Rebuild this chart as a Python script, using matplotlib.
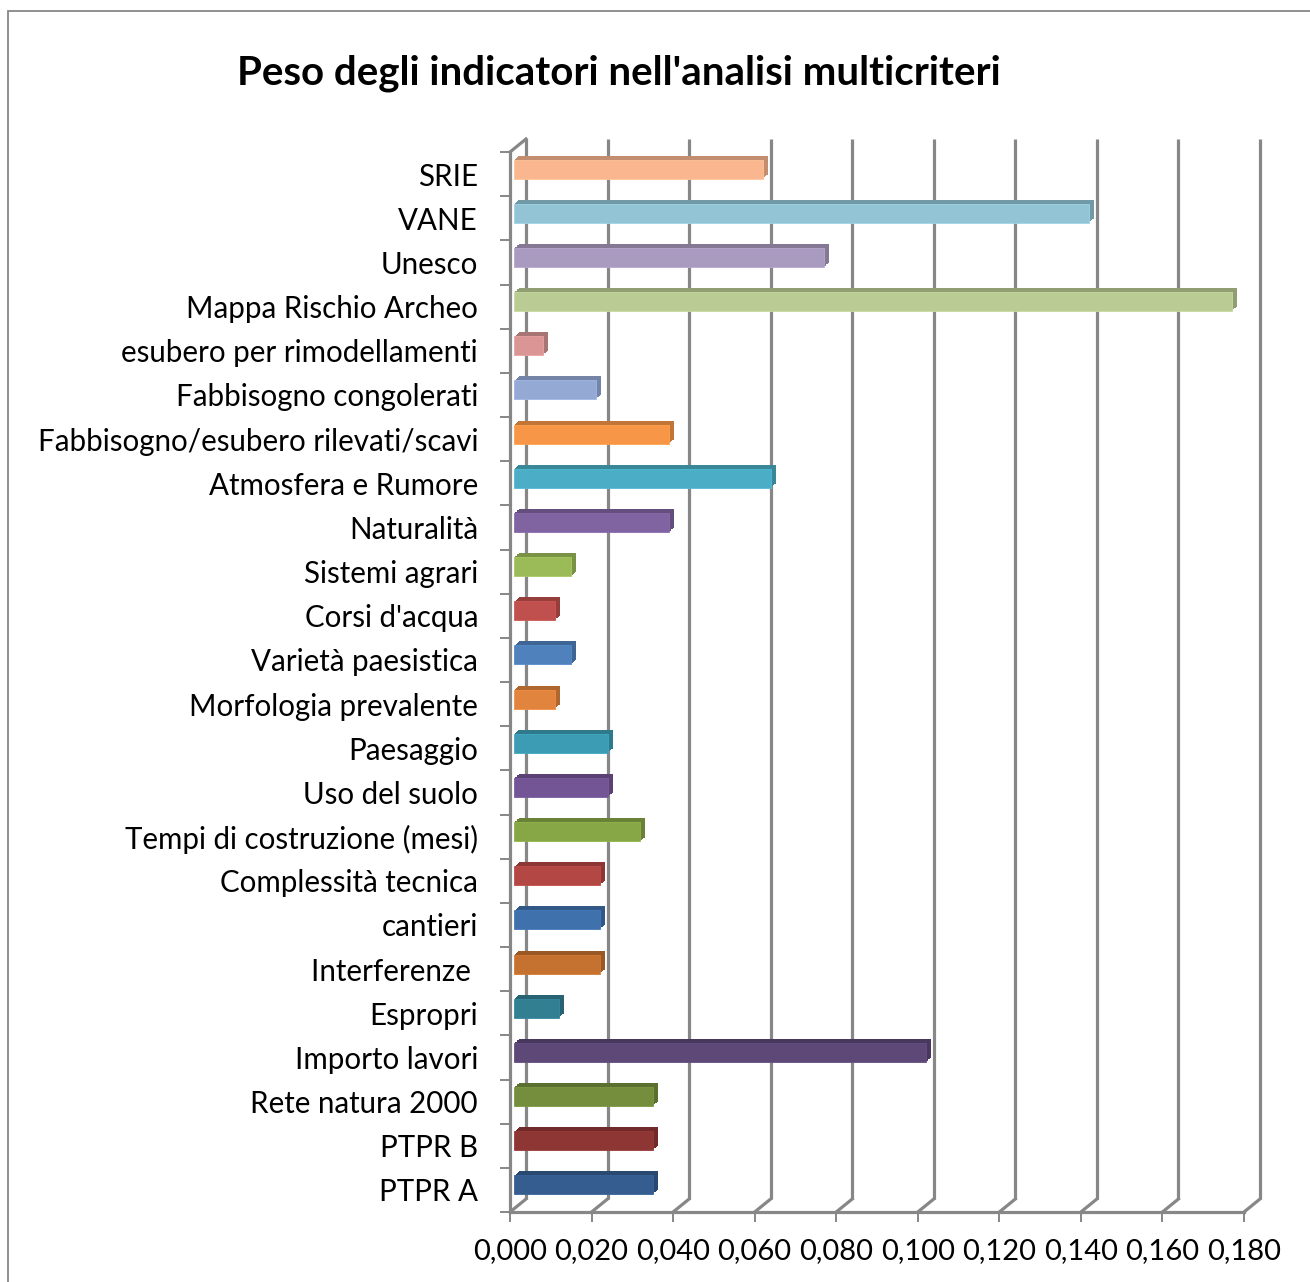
import numpy as np
import matplotlib
matplotlib.use("Agg")
import matplotlib.pyplot as plt
from matplotlib.transforms import ScaledTranslation, IdentityTransform
from matplotlib.lines import Line2D
from matplotlib.patches import Rectangle
import matplotlib.colors as mcolors

# ---------------- data ----------------
categories = [
    "SRIE", "VANE", "Unesco", "Mappa Rischio Archeo",
    "esubero per rimodellamenti", "Fabbisogno congolerati",
    "Fabbisogno/esubero rilevati/scavi", "Atmosfera e Rumore",
    "Naturalità", "Sistemi agrari", "Corsi d'acqua", "Varietà paesistica",
    "Morfologia prevalente", "Paesaggio", "Uso del suolo",
    "Tempi di costruzione (mesi)", "Complessità tecnica", "cantieri",
    "Interferenze ", "Espropri", "Importo lavori", "Rete natura 2000",
    "PTPR B", "PTPR A",
]
values = [
    0.061, 0.141, 0.076, 0.176,
    0.007, 0.020,
    0.038, 0.063,
    0.038, 0.014, 0.010, 0.014,
    0.010, 0.023, 0.023,
    0.031, 0.021, 0.021,
    0.021, 0.011, 0.101, 0.034,
    0.034, 0.034,
]
colors = [
    "#FAB68E", "#92C4D5", "#A99ABF", "#BACB94",
    "#D99695", "#95A9D5",
    "#F79646", "#4BADC6",
    "#8064A2", "#9BBB59", "#C0504D", "#4F81BD",
    "#E0843E", "#3B9CB3", "#735595",
    "#87A747", "#B34744", "#3F71AD",
    "#C5712F", "#327F92", "#5E4878", "#758E3D",
    "#8E3634", "#355D8F",
]
x_ticks = [0.000, 0.020, 0.040, 0.060, 0.080, 0.100, 0.120, 0.140, 0.160, 0.180]
x_tick_labels = ["0,000", "0,020", "0,040", "0,060", "0,080", "0,100",
                 "0,120", "0,140", "0,160", "0,180"]
title = "Peso degli indicatori nell'analisi multicriteri"

# ---------------- figure ----------------
W, H, DPI = 1310, 1282, 100
FONT = ["Lato", "DejaVu Sans"]
plt.rcParams['font.family'] = FONT
fig = plt.figure(figsize=(W / DPI, H / DPI), dpi=DPI)
renderer = fig.canvas.get_renderer()
GRAY = "#878787"


def fit_size(text, target_px, weight="normal"):
    t = fig.text(0, 0, text, fontsize=10, fontweight=weight)
    w = t.get_window_extent(renderer).width
    t.remove()
    return 10 * target_px / w


lab_fs = fit_size("Fabbisogno/esubero rilevati/scavi", 442)
tick_fs = fit_size("0,020", 74)
title_fs = fit_size(title, 765, "bold")

# outer chart border
fig.add_artist(Rectangle((8 / W, -0.05), 1.2, 1.05 - 11 / H,
                         transform=fig.transFigure, fill=False,
                         edgecolor=GRAY, lw=1.3))

# front plane axes
ax = fig.add_axes([510 / W, 1 - 1212 / H, 734 / W, 1060 / H])
ax.patch.set_alpha(0)
n = len(categories)
ypos = np.arange(n)


def off(dx, dy):
    return ax.transData + ScaledTranslation(dx / DPI, dy / DPI, fig.dpi_scale_trans)


# back-wall gridlines
BDX, BDY = 16, 13
for xv in x_ticks:
    ax.plot([xv, xv], [-0.5, n - 0.5], color=GRAY, lw=2.3,
            transform=off(BDX, BDY), zorder=1, clip_on=False,
            solid_capstyle="butt")

# bars with simple extrusion
BH = 0.43
FX, FY = 4, 5
DEPX, DEPY = 5, 4
steps = 6
for k in range(steps, 0, -1):
    t = k / steps
    dark = [tuple(np.array(mcolors.to_rgb(c)) * 0.78) for c in colors]
    bars = ax.barh(ypos, values, height=BH, left=0, color=dark, zorder=2)
    for b in bars:
        b.set_transform(off(FX + DEPX * t, FY + DEPY * t))
        b.set_clip_on(False)
bars = ax.barh(ypos, values, height=BH, left=0, color=colors, zorder=3,
               edgecolor=[tuple(np.minimum(np.array(mcolors.to_rgb(c)) * 1.08, 1)) for c in colors],
               linewidth=0.6)
for b in bars:
    b.set_transform(off(FX, FY))
    b.set_clip_on(False)

ax.set_xlim(0, 0.18)
ax.set_ylim(n - 0.5, -0.5)

# spines
for s in ["top", "right"]:
    ax.spines[s].set_visible(False)
for s in ["left", "bottom"]:
    ax.spines[s].set_color(GRAY)
    ax.spines[s].set_linewidth(2.3)
    ax.spines[s].set_zorder(4)

# ticks
ax.set_xticks(x_ticks)
ax.set_xticklabels(x_tick_labels, fontsize=tick_fs)
ax.tick_params(axis="x", direction="out", length=7.5, width=1.4, color=GRAY,
               pad=11, labelcolor="black")
ax.set_yticks(ypos)
ax.set_yticklabels(categories, fontsize=lab_fs)
ax.tick_params(axis="y", which="major", length=0, pad=23, labelcolor="black")
ax.set_yticks(np.arange(-0.5, n, 1.0), minor=True)
ax.tick_params(axis="y", which="minor", direction="out", length=7.5,
               width=1.4, color=GRAY)

# floor / side diagonals connecting front plane to back wall
for xv in x_ticks:
    p0 = ax.transData.transform((xv, n - 0.5))
    fig.add_artist(Line2D([p0[0], p0[0] + BDX], [p0[1], p0[1] + BDY],
                          transform=IdentityTransform(), color=GRAY, lw=2.3))
p0 = ax.transData.transform((0, -0.5))
fig.add_artist(Line2D([p0[0], p0[0] + BDX], [p0[1], p0[1] + BDY],
                      transform=IdentityTransform(), color=GRAY, lw=2.3))

# title
fig.text(619 / W, 1 - 84 / H, title, ha="center", va="baseline",
         fontsize=title_fs, fontweight="bold")

fig.savefig("out.png", dpi=DPI)
